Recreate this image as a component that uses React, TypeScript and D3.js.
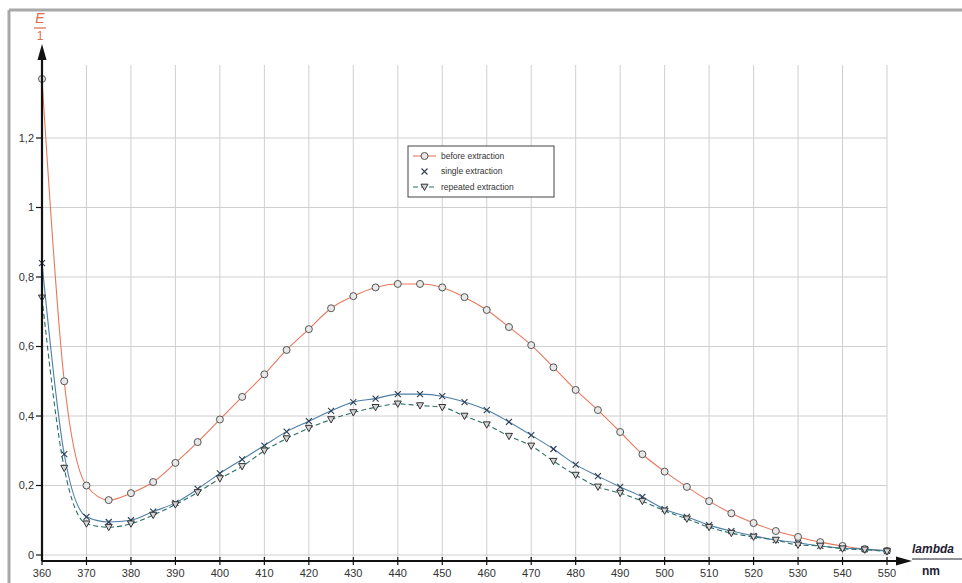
import * as d3 from 'd3';

const wavelengths = [360, 365, 370, 375, 380, 385, 390, 395, 400, 405, 410, 415, 420, 425, 430, 435, 440, 445, 450, 455, 460, 465, 470, 475, 480, 485, 490, 495, 500, 505, 510, 515, 520, 525, 530, 535, 540, 545, 550];

const beforeExtraction = [1.37, 0.5, 0.2, 0.158, 0.178, 0.21, 0.265, 0.325, 0.39, 0.455, 0.52, 0.59, 0.65, 0.71, 0.745, 0.77, 0.78, 0.78, 0.77, 0.742, 0.705, 0.656, 0.604, 0.54, 0.475, 0.417, 0.354, 0.29, 0.24, 0.196, 0.155, 0.12, 0.092, 0.069, 0.052, 0.037, 0.026, 0.017, 0.012];

const singleExtraction = [0.84, 0.29, 0.11, 0.095, 0.1, 0.125, 0.15, 0.19, 0.235, 0.275, 0.315, 0.355, 0.385, 0.415, 0.44, 0.45, 0.463, 0.463, 0.457, 0.44, 0.417, 0.383, 0.345, 0.305, 0.26, 0.227, 0.196, 0.167, 0.132, 0.11, 0.086, 0.069, 0.055, 0.043, 0.035, 0.026, 0.02, 0.017, 0.012];

const repeatedExtraction = [0.74, 0.25, 0.09, 0.08, 0.09, 0.115, 0.145, 0.18, 0.22, 0.255, 0.3, 0.335, 0.365, 0.39, 0.41, 0.425, 0.435, 0.43, 0.425, 0.4, 0.375, 0.342, 0.314, 0.27, 0.23, 0.196, 0.178, 0.155, 0.127, 0.104, 0.08, 0.063, 0.052, 0.043, 0.029, 0.026, 0.018, 0.015, 0.01];

const xTicks = [360, 370, 380, 390, 400, 410, 420, 430, 440, 450, 460, 470, 480, 490, 500, 510, 520, 530, 540, 550];
const yTicks = [0, 0.2, 0.4, 0.6, 0.8, 1, 1.2];

const legendLabels = ['before extraction', 'single extraction', 'repeated extraction'];

const W = 962;
const H = 583;
const FONT = '"Liberation Sans", Arial, sans-serif';

function Marker({ kind, x, y }: { kind: string; x: number; y: number }) {
  if (kind === 'circle') {
    return <circle cx={x} cy={y} r={3.5} fill="#e8e8e8" stroke="#555" strokeWidth={1} />;
  }
  if (kind === 'cross') {
    const s = 3;
    return (
      <g stroke="#2c3e55" strokeWidth={1.1}>
        <line x1={x - s} y1={y - s} x2={x + s} y2={y + s} />
        <line x1={x - s} y1={y + s} x2={x + s} y2={y - s} />
      </g>
    );
  }
  const s = 3.5;
  return <path d={`M${x - s},${y - s * 0.8}L${x + s},${y - s * 0.8}L${x},${y + s}Z`} fill="#d4d4d4" stroke="#333" strokeWidth={1} />;
}

export default function App() {
  const x = d3.scaleLinear().domain([360, 550]).range([42, 887]);
  const y = d3.scaleLinear().domain([0, 1.2]).range([555, 138]);
  const axisY = y(0) + 6;

  const series = [
    { values: beforeExtraction, color: '#e8775c', dash: undefined, marker: 'circle' },
    { values: singleExtraction, color: '#4e7fa8', dash: undefined, marker: 'cross' },
    { values: repeatedExtraction, color: '#2a6f66', dash: '5,3', marker: 'tri' },
  ];

  const line = d3
    .line<number>()
    .x((_, i) => x(wavelengths[i]))
    .y((d) => y(d))
    .curve(d3.curveMonotoneX);

  const fmt = (v: number) => String(v).replace('.', ',');

  return (
    <svg width={W} height={H} style={{ position: 'absolute', left: 0, top: 0, background: '#fff' }} fontFamily={FONT}>
      {/* frame */}
      <line x1={9} y1={10} x2={W} y2={10} stroke="#a8a8a8" strokeWidth={3} />
      <line x1={9} y1={10} x2={9} y2={H} stroke="#a8a8a8" strokeWidth={3} />

      {/* grid */}
      <g stroke="#cfcfcf" strokeWidth={1}>
        {xTicks.slice(1).map((t) => (
          <line key={'gx' + t} x1={x(t)} x2={x(t)} y1={65} y2={axisY} />
        ))}
        {yTicks.map((t) => (
          <line key={'gy' + t} x1={x(360)} x2={x(550)} y1={y(t)} y2={y(t)} />
        ))}
      </g>

      {/* series */}
      {series.map((s, si) => (
        <g key={'s' + si}>
          <path d={line(s.values) || ''} fill="none" stroke={s.color} strokeWidth={1.1} strokeDasharray={s.dash} />
          {s.values.map((v, i) => (
            <Marker key={i} kind={s.marker} x={x(wavelengths[i])} y={y(v)} />
          ))}
        </g>
      ))}

      {/* y axis */}
      <line x1={x(360)} x2={x(360)} y1={56} y2={axisY} stroke="#111" strokeWidth={2.2} />
      <path d={`M${x(360)},44L${x(360) - 4.5},60L${x(360) + 4.5},60Z`} fill="#111" />
      {yTicks.map((t) => (
        <g key={'yt' + t}>
          <line x1={x(360) - 6} x2={x(360)} y1={y(t)} y2={y(t)} stroke="#111" strokeWidth={1.2} />
          <text x={x(360) - 8} y={y(t)} dy="0.35em" textAnchor="end" fontSize={11} fill="#333">
            {fmt(t)}
          </text>
        </g>
      ))}
      <text x={40} y={23} textAnchor="middle" fontSize={14} fontStyle="italic" fill="#e06a4e">E</text>
      <line x1={34} x2={46} y1={28} y2={28} stroke="#e06a4e" strokeWidth={1.2} />
      <text x={40} y={40} textAnchor="middle" fontSize={12} fill="#e06a4e">1</text>

      {/* x axis */}
      <line x1={x(360)} x2={905} y1={axisY} y2={axisY} stroke="#111" strokeWidth={2.2} />
      <path d={`M912,${axisY}L896,${axisY - 4.5}L896,${axisY + 4.5}Z`} fill="#111" />
      {xTicks.map((t) => (
        <g key={'xt' + t}>
          <line x1={x(t)} x2={x(t)} y1={axisY - 4} y2={axisY + 4} stroke="#111" strokeWidth={1.2} />
          <text x={x(t)} y={axisY + 16} textAnchor="middle" fontSize={11} fill="#333">
            {t}
          </text>
        </g>
      ))}
      <text x={912} y={553} fontSize={12} fontStyle="italic" fontWeight="bold" fill="#223">lambda</text>
      <line x1={912} x2={962} y1={559} y2={559} stroke="#223" strokeWidth={1} />
      <text x={922} y={575} fontSize={12} fontWeight="bold" fill="#223">nm</text>

      {/* legend */}
      <g>
        <rect x={408} y={146} width={146} height={51} fill="#fff" stroke="#444" strokeWidth={1} />
        {legendLabels.map((lab, i) => {
          const ly = 156 + i * 15.5;
          const s = series[i];
          return (
            <g key={'lg' + i}>
              <line x1={413} x2={436} y1={ly} y2={ly} stroke={s.color} strokeWidth={1.1} strokeDasharray={s.dash} opacity={i === 1 ? 0 : 1} />
              <Marker kind={s.marker} x={424.5} y={ly} />
              <text x={441} y={ly} dy="0.35em" fontSize={8.5} fill="#333">{lab}</text>
            </g>
          );
        })}
      </g>
    </svg>
  );
}
